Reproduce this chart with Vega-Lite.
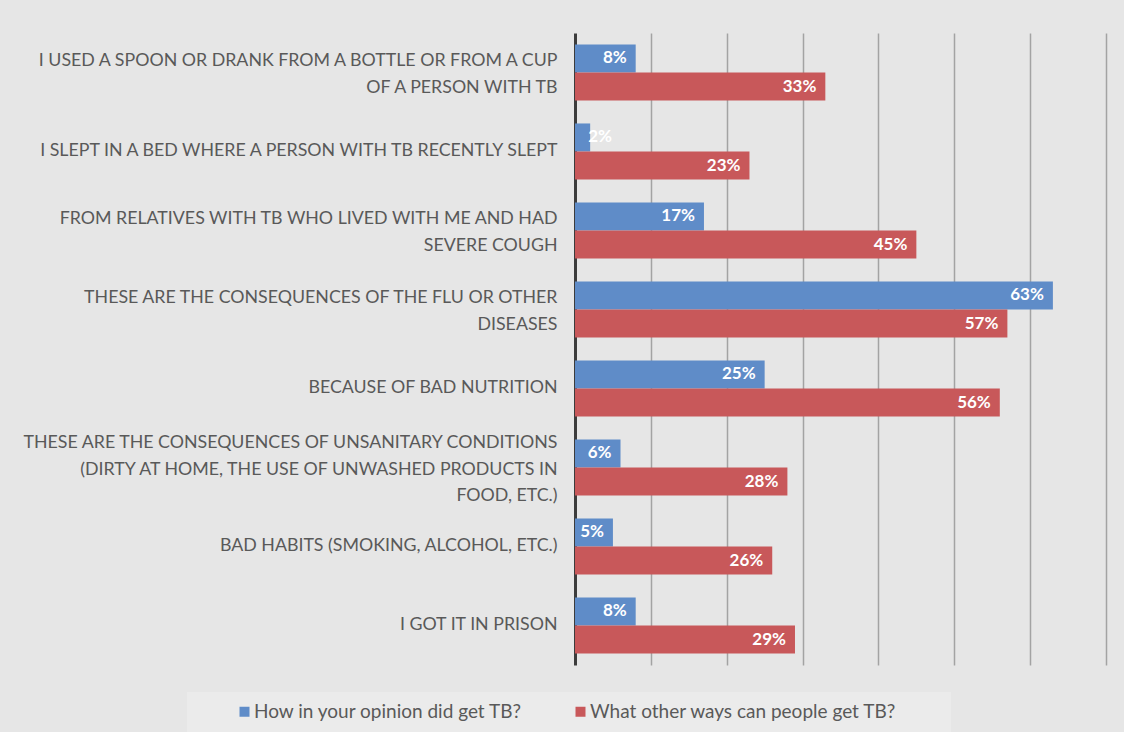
{
  "$schema": "https://vega.github.io/schema/vega-lite/v6.json",
  "width": 531,
  "height": 632,
  "padding": {"left": 0, "top": 33, "right": 18, "bottom": 0},
  "background": "#e6e6e6",
  "config": {"view": {"stroke": null}, "font": "Lato"},
  "data": {
    "values": [
      {"cat": "I USED A SPOON OR DRANK FROM A BOTTLE OR FROM A CUP|OF A PERSON WITH TB", "series": "How in your opinion did get TB?", "value": 0.08},
      {"cat": "I USED A SPOON OR DRANK FROM A BOTTLE OR FROM A CUP|OF A PERSON WITH TB", "series": "What other ways can people get TB?", "value": 0.33},
      {"cat": "I SLEPT IN A BED WHERE A PERSON WITH TB RECENTLY SLEPT", "series": "How in your opinion did get TB?", "value": 0.02},
      {"cat": "I SLEPT IN A BED WHERE A PERSON WITH TB RECENTLY SLEPT", "series": "What other ways can people get TB?", "value": 0.23},
      {"cat": "FROM RELATIVES WITH TB WHO LIVED WITH ME AND HAD|SEVERE COUGH", "series": "How in your opinion did get TB?", "value": 0.17},
      {"cat": "FROM RELATIVES WITH TB WHO LIVED WITH ME AND HAD|SEVERE COUGH", "series": "What other ways can people get TB?", "value": 0.45},
      {"cat": "THESE ARE THE CONSEQUENCES OF THE FLU OR OTHER|DISEASES", "series": "How in your opinion did get TB?", "value": 0.63},
      {"cat": "THESE ARE THE CONSEQUENCES OF THE FLU OR OTHER|DISEASES", "series": "What other ways can people get TB?", "value": 0.57},
      {"cat": "BECAUSE OF BAD NUTRITION", "series": "How in your opinion did get TB?", "value": 0.25},
      {"cat": "BECAUSE OF BAD NUTRITION", "series": "What other ways can people get TB?", "value": 0.56},
      {"cat": "THESE ARE THE CONSEQUENCES OF UNSANITARY CONDITIONS|(DIRTY AT HOME, THE USE OF UNWASHED PRODUCTS IN|FOOD, ETC.)", "series": "How in your opinion did get TB?", "value": 0.06},
      {"cat": "THESE ARE THE CONSEQUENCES OF UNSANITARY CONDITIONS|(DIRTY AT HOME, THE USE OF UNWASHED PRODUCTS IN|FOOD, ETC.)", "series": "What other ways can people get TB?", "value": 0.28},
      {"cat": "BAD HABITS (SMOKING, ALCOHOL, ETC.)", "series": "How in your opinion did get TB?", "value": 0.05},
      {"cat": "BAD HABITS (SMOKING, ALCOHOL, ETC.)", "series": "What other ways can people get TB?", "value": 0.26},
      {"cat": "I GOT IT IN PRISON", "series": "How in your opinion did get TB?", "value": 0.08},
      {"cat": "I GOT IT IN PRISON", "series": "What other ways can people get TB?", "value": 0.29}
    ]
  },
  "encoding": {
    "y": {
      "field": "cat", "type": "nominal", "sort": null,
      "scale": {"paddingInner": 0.29, "paddingOuter": 0.145},
      "axis": {
        "title": null, "ticks": false, "domain": false,
        "labelExpr": "split(datum.label, '|')",
        "labelAlign": "right", "labelPadding": 18, "labelFont": "Lato",
        "labelFontSize": 17.8, "labelColor": "#595959", "labelLineHeight": 26.5,
        "labelOffset": {"condition": [
          {"test": "length(split(datum.value, '|')) == 3", "value": -24.5},
          {"test": "length(split(datum.value, '|')) == 2", "value": -11.5}
        ], "value": -1},
        "labelLimit": 570, "minExtent": 575, "maxExtent": 575
      }
    },
    "yOffset": {"field": "series", "type": "nominal"},
    "x": {
      "field": "value", "type": "quantitative",
      "scale": {"domain": [0, 0.7], "nice": false},
      "axis": {
        "title": null, "labels": false, "ticks": false, "domain": false,
        "values": [0, 0.1, 0.2, 0.3, 0.4, 0.5, 0.6, 0.7],
        "gridColor": {"condition": {"test": "datum.value === 0", "value": "#3c3c3c"}, "value": "#a3a3a3"},
        "gridWidth": {"condition": {"test": "datum.value === 0", "value": 3}, "value": 1.5}
      }
    }
  },
  "layer": [
    {
      "mark": {"type": "bar"},
      "encoding": {
        "color": {
          "field": "series", "type": "nominal",
          "scale": {"range": ["#5f8cc8", "#c8585a"]},
          "legend": {
            "title": null, "orient": "none", "direction": "horizontal",
            "legendX": -388, "legendY": 659,
            "symbolType": "square", "symbolSize": 100, "symbolStrokeWidth": 0,
            "labelFont": "Lato", "labelFontSize": 19, "labelColor": "#595959",
            "labelExpr": "datum.label == 'What other ways can people get TB?' ? datum.label + '\u00a0\u00a0\u00a0\u00a0\u00a0\u00a0\u00a0\u00a0\u00a0\u200b' : datum.label",
            "labelOffset": 0, "columnPadding": 10, "labelLimit": 600,
            "fillColor": "#ebebeb", "padding": 10, "symbolOffset": 38
          }
        }
      }
    },
    {
      "transform": [{"filter": "datum.value >= 0.03"}],
      "mark": {"type": "text", "align": "right", "baseline": "middle", "dx": -9, "color": "white", "font": "Lato", "fontWeight": "bold", "fontSize": 17},
      "encoding": {
        "text": {"field": "value", "type": "quantitative", "format": ".0%"}
      }
    },
    {
      "transform": [{"filter": "datum.value < 0.03"}],
      "mark": {"type": "text", "align": "left", "baseline": "middle", "dx": -2, "color": "white", "font": "Lato", "fontWeight": "bold", "fontSize": 17},
      "encoding": {
        "text": {"field": "value", "type": "quantitative", "format": ".0%"}
      }
    }
  ]
}
